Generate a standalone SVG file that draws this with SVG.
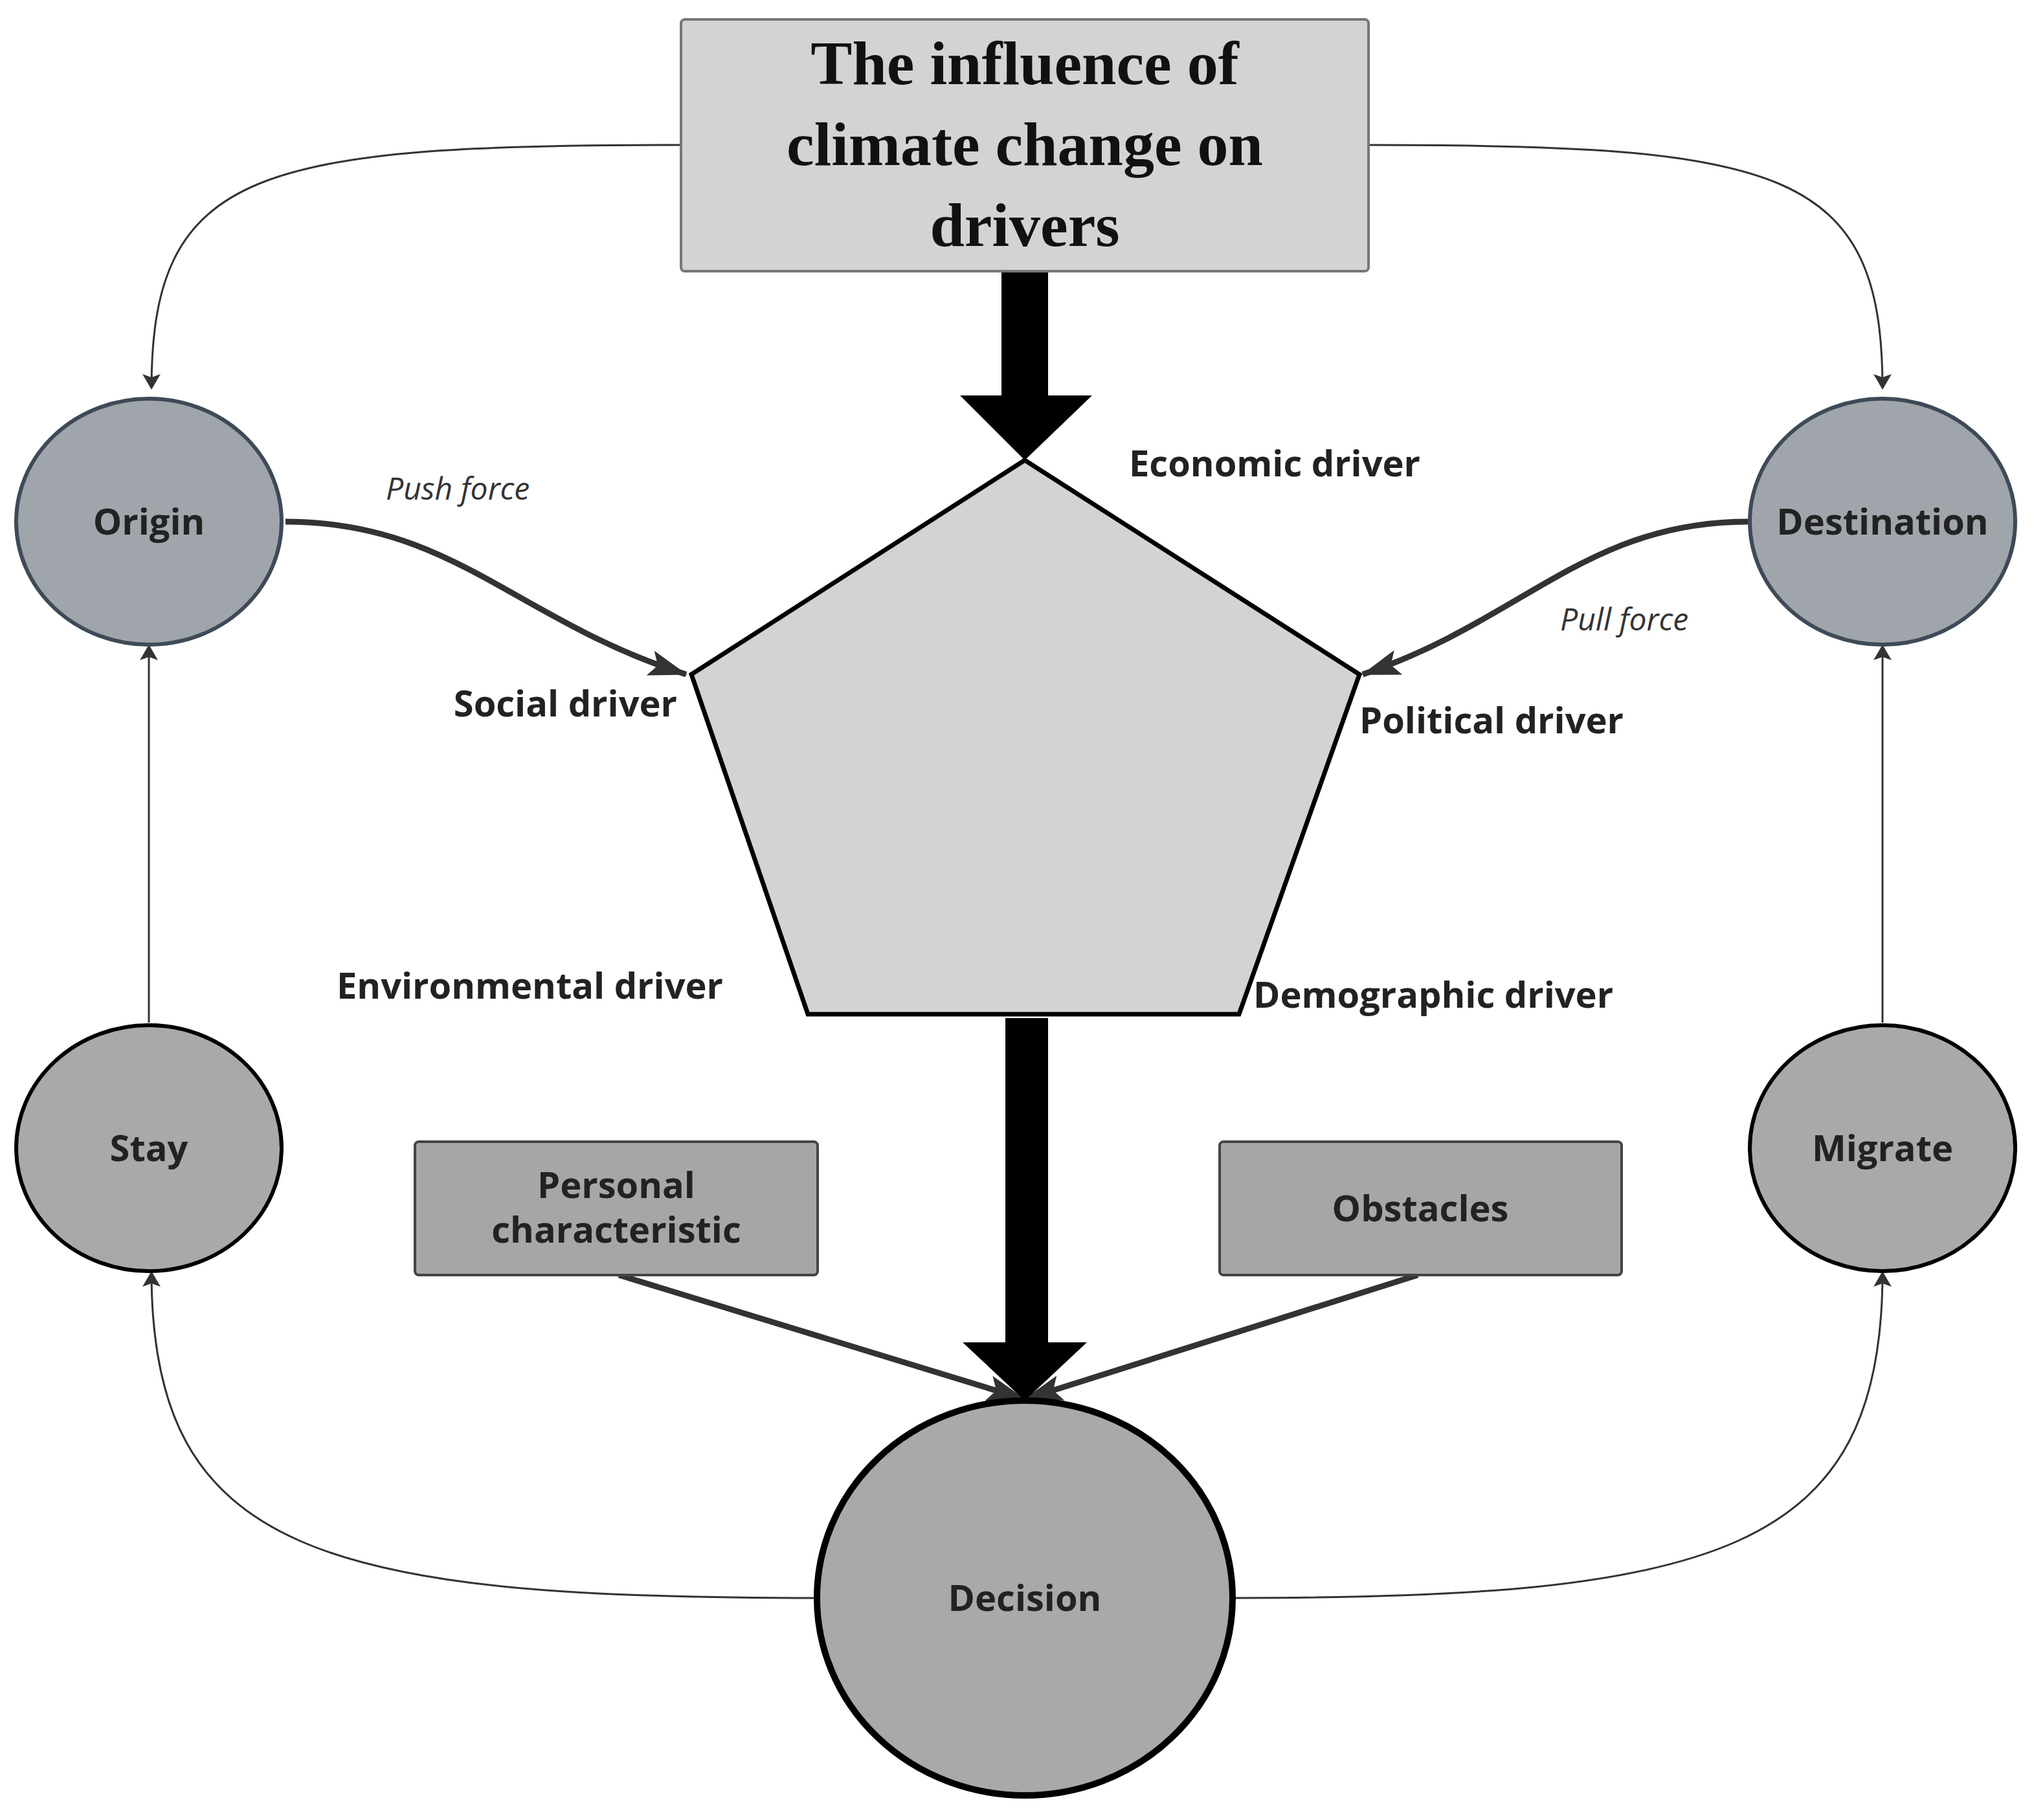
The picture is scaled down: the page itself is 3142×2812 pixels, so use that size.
<svg xmlns="http://www.w3.org/2000/svg" width="3142" height="2812" viewBox="0 0 3142 2812">
<defs>
<style>
.lbl{font-family:"Open Sans","Noto Sans",sans-serif;font-weight:bold;font-size:56px;fill:#222}
.it{font-family:"Open Sans","Noto Sans",sans-serif;font-style:italic;font-size:48px;fill:#333}
.thin{fill:none;stroke:#333;stroke-width:3}
.med{fill:none;stroke:#333;stroke-width:9}
</style>
<marker id="a" markerWidth="10" markerHeight="10" refX="9" refY="5" orient="auto" markerUnits="userSpaceOnUse" viewBox="0 0 10 10"><path d="M0,0 L10,5 L0,10 Z" fill="#333"/></marker>
<marker id="am" markerWidth="60" markerHeight="40" refX="58" refY="20" orient="auto" markerUnits="userSpaceOnUse"><path d="M0,0 L60,20 L0,40 L12,20 Z" fill="#333"/></marker>
<marker id="at" markerWidth="24" markerHeight="28" refX="22" refY="14" orient="auto" markerUnits="userSpaceOnUse"><path d="M0,0 L24,14 L0,28 L5,14 Z" fill="#333"/></marker>
</defs>
<rect width="3142" height="2812" fill="#fff"/>
<g id="connectors">
<path class="thin" d="M1052,224 C400,224 234,260 234,600" marker-end="url(#at)"/>
<path class="thin" d="M2114,224 C2750,224 2908,260 2908,600" marker-end="url(#at)"/>
<path class="thin" d="M230,1580 L230,998" marker-end="url(#at)"/>
<path class="thin" d="M2908,1580 L2908,998" marker-end="url(#at)"/>
<path class="thin" d="M1262,2469 C500,2469 234,2400 234,1966" marker-end="url(#at)"/>
<path class="thin" d="M1904,2469 C2650,2469 2908,2400 2908,1966" marker-end="url(#at)"/>
<path class="med" d="M441,806 C700,806 800,960 1060,1042" marker-end="url(#am)"/>
<path class="med" d="M2700,806 C2450,806 2350,960 2105,1042" marker-end="url(#am)"/>
<path class="med" d="M956,1970 L1583,2162" marker-end="url(#am)"/>
<path class="med" d="M2190,1970 L1583,2162" marker-end="url(#am)"/>
<path d="M1547,390 H1619 V611 H1687 L1583,711 L1483,611 H1547 Z" fill="#000"/>
<path d="M1553,1573 H1619 V2074 H1679 L1583,2164 L1487,2074 H1553 Z" fill="#000"/>
</g>
<g id="title"><rect x="1052" y="30" width="1062" height="389" rx="6" fill="#d3d3d3" stroke="#777" stroke-width="4"/>
<text font-family="Liberation Serif,serif" font-weight="bold" font-size="96" text-anchor="middle" fill="#111"><tspan x="1583" y="130">The influence of</tspan><tspan x="1583" y="255">climate change on</tspan><tspan x="1583" y="380">drivers</tspan></text></g>
<g id="pentagon"><polygon points="1583,711 2100,1042 1914,1567 1248,1567 1068,1042" fill="#d3d3d3" stroke="#000" stroke-width="7"/>
<text class="lbl" x="1744" y="736">Economic driver</text>
<text class="lbl" x="1046" y="1107" text-anchor="end">Social driver</text>
<text class="lbl" x="2100" y="1133">Political driver</text>
<text class="lbl" x="520" y="1543">Environmental driver</text>
<text class="lbl" x="1936" y="1557">Demographic driver</text>
<text class="it" x="596" y="772">Push force</text>
<text class="it" x="2410" y="974">Pull force</text></g>
<g id="origin"><ellipse cx="230" cy="806" rx="205" ry="190" fill="#a0a5ab" stroke="#3e4a57" stroke-width="6"/><text class="lbl" x="230" y="826" text-anchor="middle">Origin</text></g>
<g id="destination"><ellipse cx="2908" cy="806" rx="205" ry="190" fill="#a0a5ab" stroke="#3e4a57" stroke-width="6"/><text class="lbl" x="2908" y="826" text-anchor="middle">Destination</text></g>
<g id="stay"><ellipse cx="230" cy="1774" rx="205" ry="190" fill="#a9a9a9" stroke="#000" stroke-width="6"/><text class="lbl" x="230" y="1794" text-anchor="middle">Stay</text></g>
<g id="migrate"><ellipse cx="2908" cy="1774" rx="205" ry="190" fill="#a9a9a9" stroke="#000" stroke-width="6"/><text class="lbl" x="2908" y="1794" text-anchor="middle">Migrate</text></g>
<g id="personal"><rect x="641" y="1764" width="622" height="206" rx="6" fill="#a6a6a6" stroke="#444" stroke-width="4"/><text class="lbl" text-anchor="middle"><tspan x="952" y="1851">Personal</tspan><tspan x="952" y="1920">characteristic</tspan></text></g>
<g id="obstacles"><rect x="1884" y="1764" width="621" height="206" rx="6" fill="#a6a6a6" stroke="#444" stroke-width="4"/><text class="lbl" x="2194" y="1887" text-anchor="middle">Obstacles</text></g>
<g id="decision"><ellipse cx="1583" cy="2469" rx="321" ry="305" fill="#a9a9a9" stroke="#000" stroke-width="10"/><text class="lbl" x="1583" y="2489" text-anchor="middle">Decision</text></g>
</svg>
